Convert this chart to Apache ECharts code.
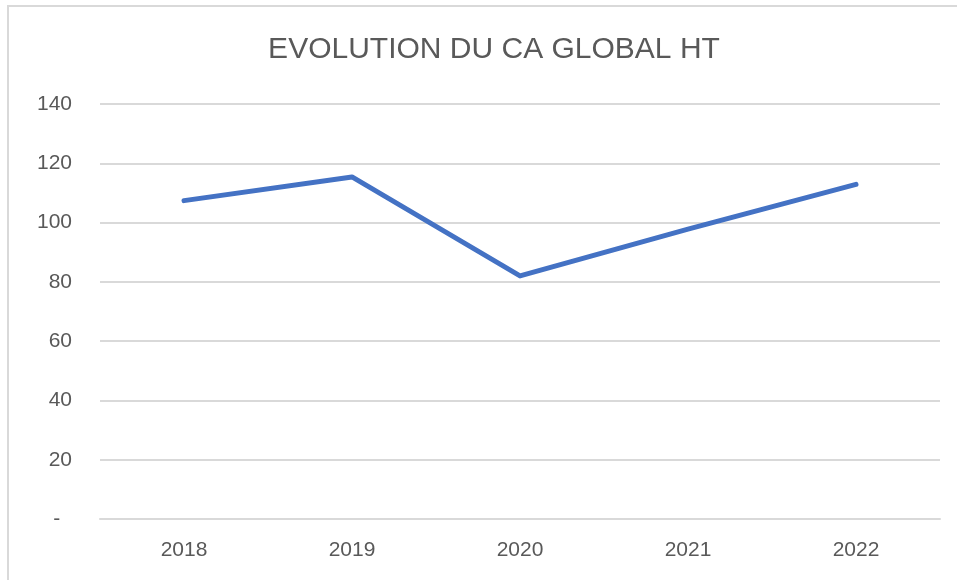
<!DOCTYPE html>
<html>
<head>
<meta charset="utf-8">
<script src="https://cdn.jsdelivr.net/npm/echarts@6/dist/echarts.min.js"></script>
<style>
  html, body { margin: 0; padding: 0; background: #fff; overflow: hidden; }
  #frame {
    position: absolute; left: 7px; top: 5px;
    width: 1000px; height: 620px;
    border: 2px solid #d9d9d9; box-sizing: border-box;
  }
  #chart { position: absolute; left: 0; top: 0; width: 957px; height: 580px; }
</style>
</head>
<body>
<div id="frame"></div>
<div id="chart"></div>
<script>
// données
const years = ['2018', '2019', '2020', '2021', '2022']
const caGlobal = [107.4, 115.4, 82, 97.8, 112.9]
const yTicks = [0, 20, 40, 60, 80, 100, 120, 140]

const myChart = echarts.init(document.getElementById('chart'))
myChart.setOption({
  animation: false,
  title: {
    text: 'EVOLUTION DU CA GLOBAL HT',
    left: 489,
    textAlign: 'center',
    top: 30,
    textStyle: {
      color: '#595959',
      fontSize: 30,
      fontWeight: 'normal',
      fontFamily: 'Liberation Sans'
    }
  },
  grid: {
    left: 100,
    right: 17,
    top: 104,
    bottom: 61
  },
  xAxis: {
    type: 'category',
    data: years,
    boundaryGap: true,
    axisLine: { lineStyle: { color: '#d9d9d9', width: 2 } },
    axisTick: { show: false },
    axisLabel: {
      color: '#595959',
      fontSize: 21,
      fontFamily: 'Liberation Sans',
      margin: 21
    }
  },
  yAxis: {
    type: 'value',
    min: yTicks[0],
    max: yTicks[yTicks.length - 1],
    interval: 20,
    axisLine: { show: false },
    axisTick: { show: false },
    splitLine: { lineStyle: { color: '#d9d9d9', width: 2 } },
    axisLabel: {
      color: '#595959',
      fontSize: 21,
      fontFamily: 'Liberation Sans',
      margin: 28,
      // zéro affiché comme un tiret (format comptable)
      formatter: function (v) { return v === 0 ? '-  ' : String(v) }
    }
  },
  series: [
    {
      name: 'CA global HT',
      type: 'line',
      data: caGlobal,
      showSymbol: false,
      lineStyle: { color: '#4472C4', width: 5, cap: 'round', join: 'round' }
    }
  ]
})
</script>
</body>
</html>
